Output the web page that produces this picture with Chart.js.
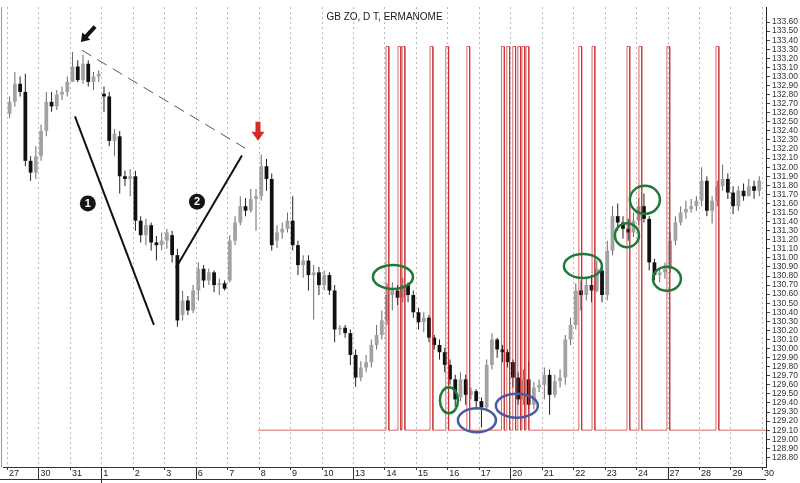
<!DOCTYPE html>
<html>
<head>
<meta charset="utf-8">
<script src="https://cdn.jsdelivr.net/npm/chart.js@4.4.1/dist/chart.umd.min.js"></script>
<style>
  html, body { margin: 0; padding: 0; background: #fff; }
  #wrap { width: 800px; height: 483px; position: relative; }
</style>
</head>
<body>
<div id="wrap"><canvas id="chart"></canvas></div>
<script>
'use strict';

const chartTitle = 'GB ZO, D T, ERMANOME';

// trading days shown on the x axis
const dayLabels = ['27', '30', '31', '1', '2', '3', '6', '7', '8', '9', '10', '13', '14',
    '15', '16', '17', '20', '21', '22', '23', '24', '27', '28', '29', '30'];
const weekStarts = [1, 6, 11, 16, 21];
const monthStart = 3;
const barsPerDay = 6;

// OHLC, 6 bars per day
const opens = [
    132.59, 132.72, 132.92, 132.83, 132.07, 131.94,
    132.12, 132.40, 132.72, 132.67, 132.80, 132.83,
    132.94, 133.11, 132.96, 133.14, 132.94, 133.00,
    132.81, 132.78, 132.29, 132.34, 131.90, 131.87,
    131.90, 131.41, 131.25, 131.36, 131.17, 131.14,
    131.19, 131.25, 131.03, 130.37, 130.53, 130.42,
    130.64, 130.88, 130.75, 130.84, 130.70, 130.72,
    130.75, 131.19, 131.39, 131.57, 131.52, 131.65,
    131.68, 132.01, 131.87, 131.19, 131.28, 131.32,
    131.41, 131.14, 130.92, 130.97, 130.81, 130.84,
    130.70, 130.81, 130.64, 130.21, 130.23, 130.17,
    129.93, 129.68, 129.79, 129.85, 130.04, 130.15,
    130.31, 130.59, 130.64, 130.56, 130.70, 130.59,
    130.40, 130.29, 130.34, 130.12, 130.04, 129.96,
    129.82, 129.66, 129.46, 129.66, 129.49, 129.53,
    129.42, 129.35, 129.82, 130.10, 129.99, 129.96,
    129.85, 129.68, 129.44, 129.66, 129.38, 129.57,
    129.60, 129.71, 129.49, 129.64, 129.68, 130.10,
    130.26, 130.64, 130.59, 130.70, 130.64, 130.86,
    130.59, 131.08, 131.46, 131.39, 131.32, 131.28,
    131.41, 131.57, 131.43, 130.95, 130.81, 130.84,
    130.88, 131.19, 131.39, 131.50, 131.54, 131.57,
    131.63, 131.85, 131.52, 131.63, 131.79, 131.87,
    131.72, 131.57, 131.74, 131.68, 131.79, 131.74
];
const highs = [
    132.78, 133.05, 133.00, 133.03, 132.12, 132.23,
    132.47, 132.83, 132.83, 132.85, 132.89, 133.00,
    133.27, 133.18, 133.24, 133.18, 133.05, 133.07,
    132.89, 132.83, 132.42, 132.40, 131.96, 131.98,
    131.96, 131.46, 131.43, 131.39, 131.24, 131.28,
    131.32, 131.30, 131.10, 130.64, 130.58, 130.70,
    130.95, 130.92, 130.88, 130.86, 130.77, 130.75,
    131.25, 131.46, 131.68, 131.66, 131.76, 131.76,
    132.14, 132.09, 131.93, 131.36, 131.39, 131.50,
    131.68, 131.19, 131.03, 131.03, 130.92, 130.90,
    130.86, 130.84, 130.70, 130.26, 130.26, 130.21,
    129.99, 129.86, 129.93, 130.10, 130.26, 130.42,
    130.72, 130.73, 130.70, 130.78, 130.73, 130.64,
    130.45, 130.40, 130.37, 130.15, 130.10, 130.01,
    129.88, 129.71, 129.74, 129.71, 129.57, 129.55,
    129.46, 129.88, 130.17, 130.12, 130.04, 129.99,
    129.88, 129.74, 129.77, 129.86, 129.63, 129.66,
    129.79, 129.77, 129.71, 129.77, 130.15, 130.34,
    130.72, 130.75, 130.77, 130.81, 130.97, 130.92,
    131.19, 131.57, 131.60, 131.46, 131.43, 131.50,
    131.66, 131.71, 131.46, 130.99, 130.88, 130.95,
    131.28, 131.46, 131.57, 131.63, 131.65, 131.68,
    132.00, 131.90, 131.68, 131.85, 132.03, 131.93,
    131.79, 131.79, 131.82, 131.87, 131.85, 131.90
];
const lows = [
    132.54, 132.67, 132.78, 132.01, 131.85, 131.87,
    132.07, 132.34, 132.61, 132.63, 132.74, 132.78,
    132.94, 132.94, 132.92, 132.89, 132.85, 132.94,
    132.61, 132.23, 132.12, 131.71, 131.79, 131.68,
    131.30, 131.17, 131.14, 131.08, 130.97, 131.08,
    131.10, 130.95, 130.24, 130.31, 130.37, 130.39,
    130.53, 130.67, 130.70, 130.62, 130.59, 130.64,
    130.73, 131.14, 131.36, 131.46, 131.50, 131.30,
    131.63, 131.74, 131.08, 131.11, 131.21, 131.28,
    131.08, 130.81, 130.78, 130.64, 130.32, 130.59,
    130.64, 130.59, 130.07, 130.15, 130.12, 129.82,
    129.58, 129.64, 129.74, 129.79, 129.99, 130.10,
    130.26, 130.42, 130.48, 130.51, 130.51, 130.34,
    130.21, 130.18, 130.07, 129.99, 129.88, 129.74,
    129.60, 129.36, 129.42, 129.38, 129.44, 129.33,
    129.13, 129.31, 129.77, 129.90, 129.85, 129.79,
    129.57, 129.38, 129.38, 129.33, 129.33, 129.52,
    129.44, 129.27, 129.46, 129.57, 129.60, 130.04,
    130.21, 130.42, 130.53, 130.51, 130.62, 130.51,
    130.53, 131.03, 131.30, 131.21, 131.19, 131.23,
    131.36, 131.39, 130.86, 130.75, 130.73, 130.77,
    130.84, 131.14, 131.36, 131.43, 131.50, 131.52,
    131.57, 131.46, 131.38, 131.57, 131.74, 131.65,
    131.48, 131.52, 131.63, 131.68, 131.65, 131.68
];
const closes = [
    132.72, 132.92, 132.83, 132.07, 131.94, 132.12,
    132.40, 132.72, 132.67, 132.80, 132.83, 132.94,
    133.11, 132.96, 133.14, 132.94, 133.00, 133.03,
    132.78, 132.29, 132.37, 131.90, 131.87, 131.90,
    131.41, 131.25, 131.36, 131.17, 131.14, 131.19,
    131.28, 131.03, 130.31, 130.53, 130.42, 130.64,
    130.88, 130.75, 130.84, 130.70, 130.72, 130.66,
    131.19, 131.39, 131.57, 131.52, 131.65, 131.68,
    132.01, 131.87, 131.14, 131.28, 131.32, 131.41,
    131.14, 130.92, 130.97, 130.81, 130.84, 130.70,
    130.81, 130.64, 130.21, 130.23, 130.17, 129.93,
    129.68, 129.79, 129.85, 130.04, 130.15, 130.31,
    130.59, 130.64, 130.56, 130.70, 130.59, 130.40,
    130.29, 130.34, 130.12, 130.04, 129.96, 129.82,
    129.66, 129.44, 129.66, 129.49, 129.53, 129.42,
    129.35, 129.82, 130.10, 129.99, 129.96, 129.85,
    129.68, 129.44, 129.66, 129.38, 129.57, 129.60,
    129.71, 129.49, 129.64, 129.68, 130.10, 130.26,
    130.64, 130.59, 130.70, 130.64, 130.88, 130.59,
    131.08, 131.46, 131.39, 131.32, 131.28, 131.41,
    131.57, 131.43, 130.95, 130.81, 130.84, 130.88,
    131.19, 131.39, 131.50, 131.54, 131.57, 131.63,
    131.85, 131.52, 131.63, 131.79, 131.87, 131.72,
    131.57, 131.74, 131.68, 131.79, 131.74, 131.85
];

// red signal line: flat at 129.10 with spikes on these days
const spikeDays = [12.05, 12.43, 12.56, 13.45, 13.95, 14.62, 15.72, 15.89, 16.08, 16.24,
    16.37, 16.50, 18.18, 18.60, 19.71, 20.09, 20.98, 22.54];
const signalBase = 129.10;
const signalTop = 133.33;
const signalStart = 7.98;

// hand-drawn marks, placed in (day, price)
const notes = {
    trend: [[2.16, 132.56, 4.67, 130.26], [5.37, 130.89, 7.47, 132.13]],
    dashed: [2.38, 133.29, 7.57, 132.21],
    numbers: [[2.57, 131.60, '1'], [6.04, 131.62, '2']],
    green: [[12.27, 130.79, 20, 12], [14.05, 129.43, 9, 13], [18.31, 130.91, 19, 12],
        [19.71, 131.25, 12, 12], [20.28, 131.64, 15, 14], [20.98, 130.77, 14, 12]],
    blue: [[14.94, 129.21, 19, 12], [16.21, 129.37, 21, 12]],
    blackArrow: [2.80, 133.55, 2.35, 133.38],
    redArrow: [7.98, 132.50, 7.98, 132.29]
};

const fam = '"Liberation Sans Narrow", "Arial Narrow", "Liberation Sans", Arial, sans-serif';

const times = opens.map((_, i) => Math.floor(i / barsPerDay) + ((i % barsPerDay) + 0.5) / barsPerDay);
const isUp = i => closes[i] >= opens[i];

const wickData = times.map((t, i) => ({x: t, y: [lows[i], highs[i]]}));
const bodyData = times.map((t, i) => ({x: t, y: [opens[i], closes[i]]}));

const signalData = [{x: signalStart, y: signalBase}];
spikeDays.forEach(d => {
    signalData.push({x: d, y: signalBase}, {x: d, y: signalTop},
        {x: d + 0.09, y: signalTop}, {x: d + 0.09, y: signalBase});
});
signalData.push({x: 24.5, y: signalBase});

function blockArrow(ctx, x1, y1, x2, y2, shaft, headL, headW) {
    const len = Math.hypot(x2 - x1, y2 - y1);
    ctx.save();
    ctx.translate(x1, y1);
    ctx.rotate(Math.atan2(y2 - y1, x2 - x1));
    ctx.beginPath();
    ctx.moveTo(0, -shaft / 2);
    ctx.lineTo(len - headL, -shaft / 2);
    ctx.lineTo(len - headL, -headW / 2);
    ctx.lineTo(len, 0);
    ctx.lineTo(len - headL, headW / 2);
    ctx.lineTo(len - headL, shaft / 2);
    ctx.lineTo(0, shaft / 2);
    ctx.closePath();
    ctx.fill();
    ctx.restore();
}

const decor = {
    id: 'decor',
    beforeDatasetsDraw(chart) {
        const {ctx, chartArea: a, scales: {x}} = chart;
        ctx.save();
        ctx.strokeStyle = '#b8b8b8';
        ctx.lineWidth = 1;
        ctx.setLineDash([2, 3]);
        dayLabels.forEach((_, i) => {
            const px = Math.round(x.getPixelForValue(i)) + 0.5;
            if (px > a.right) return;
            ctx.beginPath();
            ctx.moveTo(px, a.top);
            ctx.lineTo(px, a.bottom);
            ctx.stroke();
        });
        ctx.setLineDash([]);
        ctx.strokeStyle = '#999';
        ctx.beginPath();
        ctx.moveTo(a.left - 1.5, a.top);
        ctx.lineTo(a.left - 1.5, a.bottom);
        ctx.stroke();
        ctx.restore();
    },
    afterDatasetsDraw(chart) {
        const {ctx, chartArea: a, scales: {x, y}} = chart;
        const P = (d, v) => [x.getPixelForValue(d), y.getPixelForValue(v)];
        ctx.save();

        // title
        ctx.save();
        ctx.fillStyle = '#1a1a1a';
        ctx.font = '10px ' + fam;
        ctx.textAlign = 'center';
        ctx.textBaseline = 'middle';
        ctx.fillText(chartTitle, (a.left + a.right) / 2, 17);
        ctx.restore();

        // dashed resistance line
        let [x1, y1] = P(notes.dashed[0], notes.dashed[1]);
        let [x2, y2] = P(notes.dashed[2], notes.dashed[3]);
        ctx.strokeStyle = '#555';
        ctx.lineWidth = 1;
        ctx.setLineDash([11, 7]);
        ctx.beginPath(); ctx.moveTo(x1, y1); ctx.lineTo(x2, y2); ctx.stroke();
        ctx.setLineDash([]);

        // trend lines
        ctx.strokeStyle = '#111';
        ctx.lineWidth = 2;
        notes.trend.forEach(t => {
            const p1 = P(t[0], t[1]), p2 = P(t[2], t[3]);
            ctx.beginPath(); ctx.moveTo(p1[0], p1[1]); ctx.lineTo(p2[0], p2[1]); ctx.stroke();
        });

        // numbered bullets
        notes.numbers.forEach(n => {
            const [cx, cy] = P(n[0], n[1]);
            ctx.fillStyle = '#151515';
            ctx.beginPath(); ctx.arc(cx, cy, 8, 0, Math.PI * 2); ctx.fill();
            ctx.fillStyle = '#fff';
            ctx.font = 'bold 11px Arial, sans-serif';
            ctx.textAlign = 'center';
            ctx.textBaseline = 'middle';
            ctx.fillText(n[2], cx, cy + 0.5);
        });

        // rings
        ctx.lineWidth = 2.5;
        const ring = (r, color) => {
            const [cx, cy] = P(r[0], r[1]);
            ctx.strokeStyle = color;
            ctx.beginPath(); ctx.ellipse(cx, cy, r[2], r[3], 0, 0, Math.PI * 2); ctx.stroke();
        };
        notes.green.forEach(r => ring(r, '#1f7a3a'));
        notes.blue.forEach(r => ring(r, '#4a5aa0'));

        // arrows
        ctx.fillStyle = '#111';
        [x1, y1] = P(notes.blackArrow[0], notes.blackArrow[1]);
        [x2, y2] = P(notes.blackArrow[2], notes.blackArrow[3]);
        blockArrow(ctx, x1, y1, x2, y2, 4, 8, 11);
        ctx.fillStyle = '#d42a2a';
        [x1, y1] = P(notes.redArrow[0], notes.redArrow[1]);
        [x2, y2] = P(notes.redArrow[2], notes.redArrow[3]);
        blockArrow(ctx, x1, y1, x2, y2, 5, 9, 13);

        ctx.restore();
    },
    afterDraw(chart) {
        // date band under the plot: ticks, day numbers, week separators
        const {ctx, chartArea: a, scales: {x}} = chart;
        const bandBottom = a.bottom + 12;
        ctx.save();
        ctx.strokeStyle = '#333';
        ctx.lineWidth = 1;
        ctx.beginPath();
        ctx.moveTo(0, bandBottom + 0.5);
        ctx.lineTo(a.right, bandBottom + 0.5);
        dayLabels.forEach((_, i) => {
            const px = Math.round(x.getPixelForValue(i)) + 0.5;
            const long = weekStarts.includes(i) || i === monthStart;
            ctx.moveTo(px, a.bottom);
            ctx.lineTo(px, i === monthStart ? chart.height : (long ? bandBottom : a.bottom + 3));
        });
        ctx.stroke();
        ctx.fillStyle = '#222';
        ctx.font = '9px ' + fam;
        ctx.textAlign = 'left';
        ctx.textBaseline = 'middle';
        dayLabels.forEach((lab, i) => {
            ctx.fillText(lab, x.getPixelForValue(i) + 2, a.bottom + 6.5);
        });
        ctx.restore();
    }
};

new Chart(document.getElementById('chart'), {
    type: 'bar',
    data: {
        datasets: [
            {
                type: 'line',
                label: 'signal',
                data: signalData,
                borderColor: 'rgba(196, 40, 40, 0.7)',
                borderWidth: 1,
                pointRadius: 0,
                tension: 0,
                order: 0
            },
            {
                label: 'body',
                data: bodyData,
                backgroundColor: c => isUp(c.dataIndex) ? '#a2a2a2' : '#111',
                borderWidth: 0,
                maxBarThickness: 4,
                minBarLength: 1,
                grouped: false,
                order: 1
            },
            {
                label: 'wick',
                data: wickData,
                backgroundColor: c => isUp(c.dataIndex) ? '#6a6a6a' : '#222',
                borderWidth: 0,
                maxBarThickness: 1,
                grouped: false,
                order: 2
            }
        ]
    },
    options: {
        responsive: true,
        maintainAspectRatio: false,
        animation: false,
        layout: { padding: { left: 3, top: 0, right: 0, bottom: 0 } },
        plugins: {
            legend: { display: false },
            tooltip: { enabled: false },
            title: { display: false }
        },
        scales: {
            x: {
                type: 'linear',
                position: 'bottom',
                offset: false,
                min: -0.127,
                max: 24.13,
                afterFit: s => { s.height = 16; },
                grid: { display: false, offset: false },
                border: { display: true, color: '#333' },
                ticks: { display: false }
            },
            y: {
                type: 'linear',
                position: 'right',
                min: 128.694,
                max: 133.765,
                afterBuildTicks: s => {
                    const t = [];
                    for (let k = 2574; k <= 2675; k++) t.push({ value: k / 20 });
                    s.ticks = t;
                },
                afterFit: s => { s.width = 34; },
                grid: { drawOnChartArea: false, tickLength: 4, color: '#444' },
                border: { display: true, color: '#222' },
                ticks: {
                    autoSkip: false, padding: 2, color: '#333', font: { size: 8.5, family: fam },
                    callback: v => {
                        const c = Math.round(v * 100);
                        if (c % 10 !== 0 || c < 12880 || c > 13360) return null;
                        return (c / 100).toFixed(2);
                    }
                }
            }
        }
    },
    plugins: [decor]
});
</script>
</body>
</html>
